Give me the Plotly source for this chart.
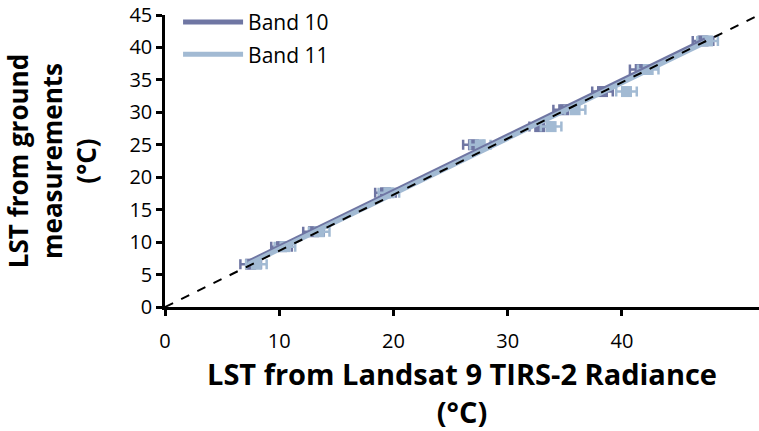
import plotly.graph_objects as go

# Data
ground_y = [6.6, 9.3, 11.6, 17.6, 25.0, 27.8, 30.4, 33.2, 36.6, 41.0]
band10_x = [7.5, 10.2, 13.0, 19.3, 27.0, 32.8, 34.9, 38.3, 41.6, 47.1]
band11_x = [8.0, 10.5, 13.5, 19.6, 27.6, 33.8, 35.9, 40.4, 42.3, 47.5]
x_err = [0.9, 0.9, 0.9, 0.9, 0.9, 0.9, 0.9, 0.9, 0.9, 0.9]
y_err = [0.6, 0.6, 0.6, 0.6, 0.6, 0.6, 0.6, 0.6, 0.6, 0.6]

trend10_x = [7.3, 47.3]
trend10_y = [6.9, 41.2]
trend11_x = [7.3, 47.3]
trend11_y = [6.6, 40.8]

ref_x = [0, 52]
ref_y = [0, 45]

x_ticks = [0, 10, 20, 30, 40]
y_ticks = [0, 5, 10, 15, 20, 25, 30, 35, 40, 45]

c10 = "#6f76a3"
c11 = "#a2bad3"
font_family = "'Open Sans', Lato, sans-serif"

fig = go.Figure()

fig.add_trace(go.Scatter(
    x=band10_x, y=ground_y, mode="markers", showlegend=False,
    marker=dict(symbol="square", size=11, color=c10),
    error_x=dict(type="data", array=x_err, color=c10, thickness=2.5, width=5),
    error_y=dict(type="data", array=y_err, color=c10, thickness=2.5, width=4),
))
fig.add_trace(go.Scatter(
    x=band11_x, y=ground_y, mode="markers", showlegend=False,
    marker=dict(symbol="square", size=11, color=c11),
    error_x=dict(type="data", array=x_err, color=c11, thickness=2.5, width=5),
    error_y=dict(type="data", array=y_err, color=c11, thickness=2.5, width=4),
))
fig.add_trace(go.Scatter(
    x=trend10_x, y=trend10_y, mode="lines", name="Band 10", legendgroup="b10",
    line=dict(color=c10, width=5),
))
fig.add_trace(go.Scatter(
    x=trend11_x, y=trend11_y, mode="lines", name="Band 11", legendgroup="b11",
    line=dict(color=c11, width=5),
))
fig.add_trace(go.Scatter(
    x=ref_x, y=ref_y, mode="lines", showlegend=False,
    line=dict(color="black", width=2, dash="dash"),
))

fig.update_layout(
    width=759, height=431,
    margin=dict(l=165, r=0, t=15, b=124),
    paper_bgcolor="white", plot_bgcolor="white",
    font=dict(family=font_family, size=19, color="black"),
    legend=dict(x=0.022, y=1.045, xanchor="left", yanchor="top",
                bgcolor="rgba(0,0,0,0)", font=dict(size=21),
                itemwidth=60, tracegroupgap=2),
    xaxis=dict(
        range=[0, 52], tickvals=x_ticks, showgrid=False, zeroline=False,
        showline=True, linecolor="black", linewidth=2.5, automargin=False,
        ticks="outside", ticklen=6, tickwidth=2.5, tickcolor="black",
        tickfont=dict(size=20), ticklabelstandoff=8, ticklabeloverflow="allow",
        title=dict(text="<b>LST from Landsat 9 TIRS-2 Radiance<br>(°C)</b>",
                   font=dict(size=29), standoff=29),
    ),
    yaxis=dict(
        range=[0, 45], tickvals=y_ticks, showgrid=False, zeroline=False,
        showline=True, linecolor="black", linewidth=2.5, automargin=False,
        ticks="outside", ticklen=6, tickwidth=2.5, tickcolor="black",
        tickfont=dict(size=20), ticklabeloverflow="allow",
        title=dict(text="<b>LST from ground<br>measurements<br>(°C)</b>",
                   font=dict(size=26), standoff=33),
    ),
)

fig.write_html(
    "out.html",
    config={"displayModeBar": False},
    post_script="document.body.style.margin='0px';document.body.style.overflow='hidden';",
)
